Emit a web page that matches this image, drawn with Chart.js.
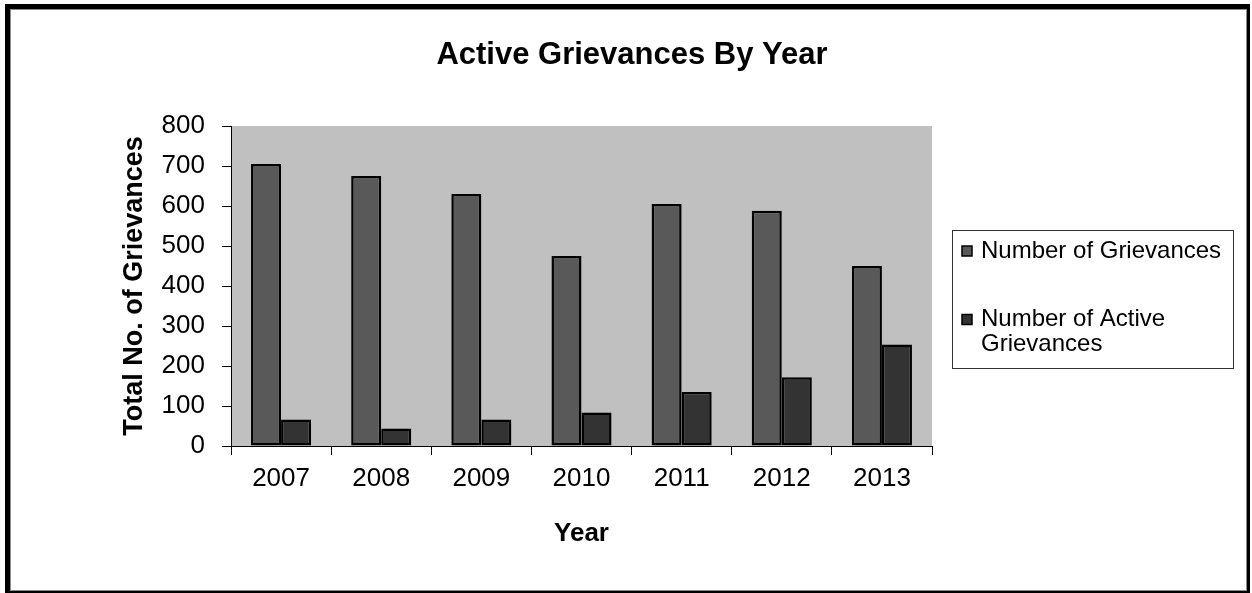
<!DOCTYPE html>
<html>
<head>
<meta charset="utf-8">
<script src="https://cdn.jsdelivr.net/npm/chart.js@4.4.1/dist/chart.umd.min.js"></script>
<style>
  html, body { margin: 0; padding: 0; background: #ffffff; }
  canvas { display: block; }
</style>
</head>
<body>
<canvas id="c" width="1252" height="593"></canvas>
<script>
const years = ['2007', '2008', '2009', '2010', '2011', '2012', '2013'];
const totalGrievances = [705, 675, 630, 475, 605, 588, 450];
const activeGrievances = [66, 44, 66, 84, 135, 172, 254];
const yTicks = [0, 100, 200, 300, 400, 500, 600, 700, 800];
const seriesNames = ['Number of Grievances', 'Number of Active Grievances'];
const legendLines = [['Number of Grievances'], ['Number of Active', 'Grievances']];

const FONT = '"Liberation Sans", Arial, sans-serif';

const plotBg = {
  id: 'plotBg',
  beforeDraw(chart) {
    const {ctx, chartArea: a} = chart;
    ctx.save();
    ctx.fillStyle = '#c0c0c0';
    ctx.fillRect(a.left, a.top, a.right - a.left, a.bottom - a.top);
    ctx.restore();
  }
};

const frameAndLegend = {
  id: 'frameAndLegend',
  afterDraw(chart) {
    const ctx = chart.ctx;
    ctx.save();
    // outer frame
    ctx.fillStyle = '#000000';
    ctx.fillRect(5, 4, 1245, 5);
    ctx.fillRect(5, 4, 5, 589);
    ctx.fillRect(1247, 4, 3, 589);
    ctx.fillRect(5, 591, 1245, 2);
    ctx.fillStyle = '#8a8a8a';
    ctx.fillRect(10, 9, 1237, 1);
    ctx.fillRect(10, 9, 1, 582);
    ctx.fillRect(1246, 9, 1, 582);
    ctx.fillRect(10, 590, 1237, 1);

    // legend
    ctx.strokeStyle = '#333333';
    ctx.lineWidth = 1;
    ctx.strokeRect(952.5, 230.5, 281, 138);
    const itemY = [[251], [319.5, 344]];
    ctx.font = '24px ' + FONT;
    ctx.textBaseline = 'middle';
    ctx.textAlign = 'left';
    chart.data.datasets.forEach((ds, i) => {
      const ys = itemY[i];
      ctx.fillStyle = ds.backgroundColor;
      ctx.fillRect(962, ys[0] - 5, 10, 10);
      ctx.strokeStyle = '#000000';
      ctx.lineWidth = 1.5;
      ctx.strokeRect(962, ys[0] - 5, 10, 10);
      ctx.fillStyle = '#000000';
      legendLines[i].forEach((t, j) => ctx.fillText(t, 981, ys[j]));
    });
    ctx.restore();
  }
};

new Chart(document.getElementById('c'), {
  type: 'bar',
  data: {
    labels: years,
    datasets: [
      {
        label: seriesNames[0],
        data: totalGrievances,
        backgroundColor: '#595959',
        borderColor: '#000000',
        borderWidth: 2.5,
        borderSkipped: false,
        categoryPercentage: 0.6,
        barPercentage: 1.0
      },
      {
        label: seriesNames[1],
        data: activeGrievances,
        backgroundColor: '#333333',
        borderColor: '#000000',
        borderWidth: 2.5,
        borderSkipped: false,
        categoryPercentage: 0.6,
        barPercentage: 1.0
      }
    ]
  },
  options: {
    responsive: false,
    animation: false,
    devicePixelRatio: 1,
    layout: { padding: { left: 12, right: 0, top: 10, bottom: 0 } },
    plugins: {
      legend: { display: false },
      tooltip: { enabled: false },
      title: {
        display: true,
        text: 'Active Grievances By Year',
        color: '#000000',
        font: { family: FONT, size: 31, weight: 'bold', lineHeight: 1.2 },
        padding: { top: 26.4, bottom: 52.4 }
      }
    },
    scales: {
      x: {
        grid: { display: true, drawOnChartArea: false, drawTicks: true, tickLength: 9, color: '#000000', offset: true },
        border: { display: true, color: '#000000', width: 1 },
        ticks: { color: '#000000', font: { family: FONT, size: 26 }, padding: 8 },
        title: {
          display: true,
          text: 'Year',
          color: '#000000',
          font: { family: FONT, size: 26, weight: 'bold', lineHeight: 1.2 },
          padding: { top: 0, bottom: 44 }
        },
        afterFit(s) { s.height = 147; }
      },
      y: {
        min: 0,
        max: 800,
        afterBuildTicks(s) { s.ticks = yTicks.map(v => ({ value: v })); },
        grid: { display: true, drawOnChartArea: false, drawTicks: true, tickLength: 9, color: '#000000' },
        border: { display: true, color: '#000000', width: 1 },
        ticks: { color: '#000000', font: { family: FONT, size: 26 }, padding: 17 },
        title: {
          display: true,
          text: 'Total No. of Grievances',
          color: '#000000',
          font: { family: FONT, size: 27, weight: 'bold', lineHeight: 1.2 },
          padding: { top: 106, bottom: 0 }
        },
        afterFit(s) { s.width = 219; }
      },
      yRight: {
        type: 'linear',
        position: 'right',
        display: true,
        min: 0,
        max: 1,
        grid: { display: false },
        border: { display: false },
        ticks: { display: false },
        afterFit(s) { s.width = 320; }
      }
    }
  },
  plugins: [plotBg, frameAndLegend]
});
</script>
</body>
</html>
